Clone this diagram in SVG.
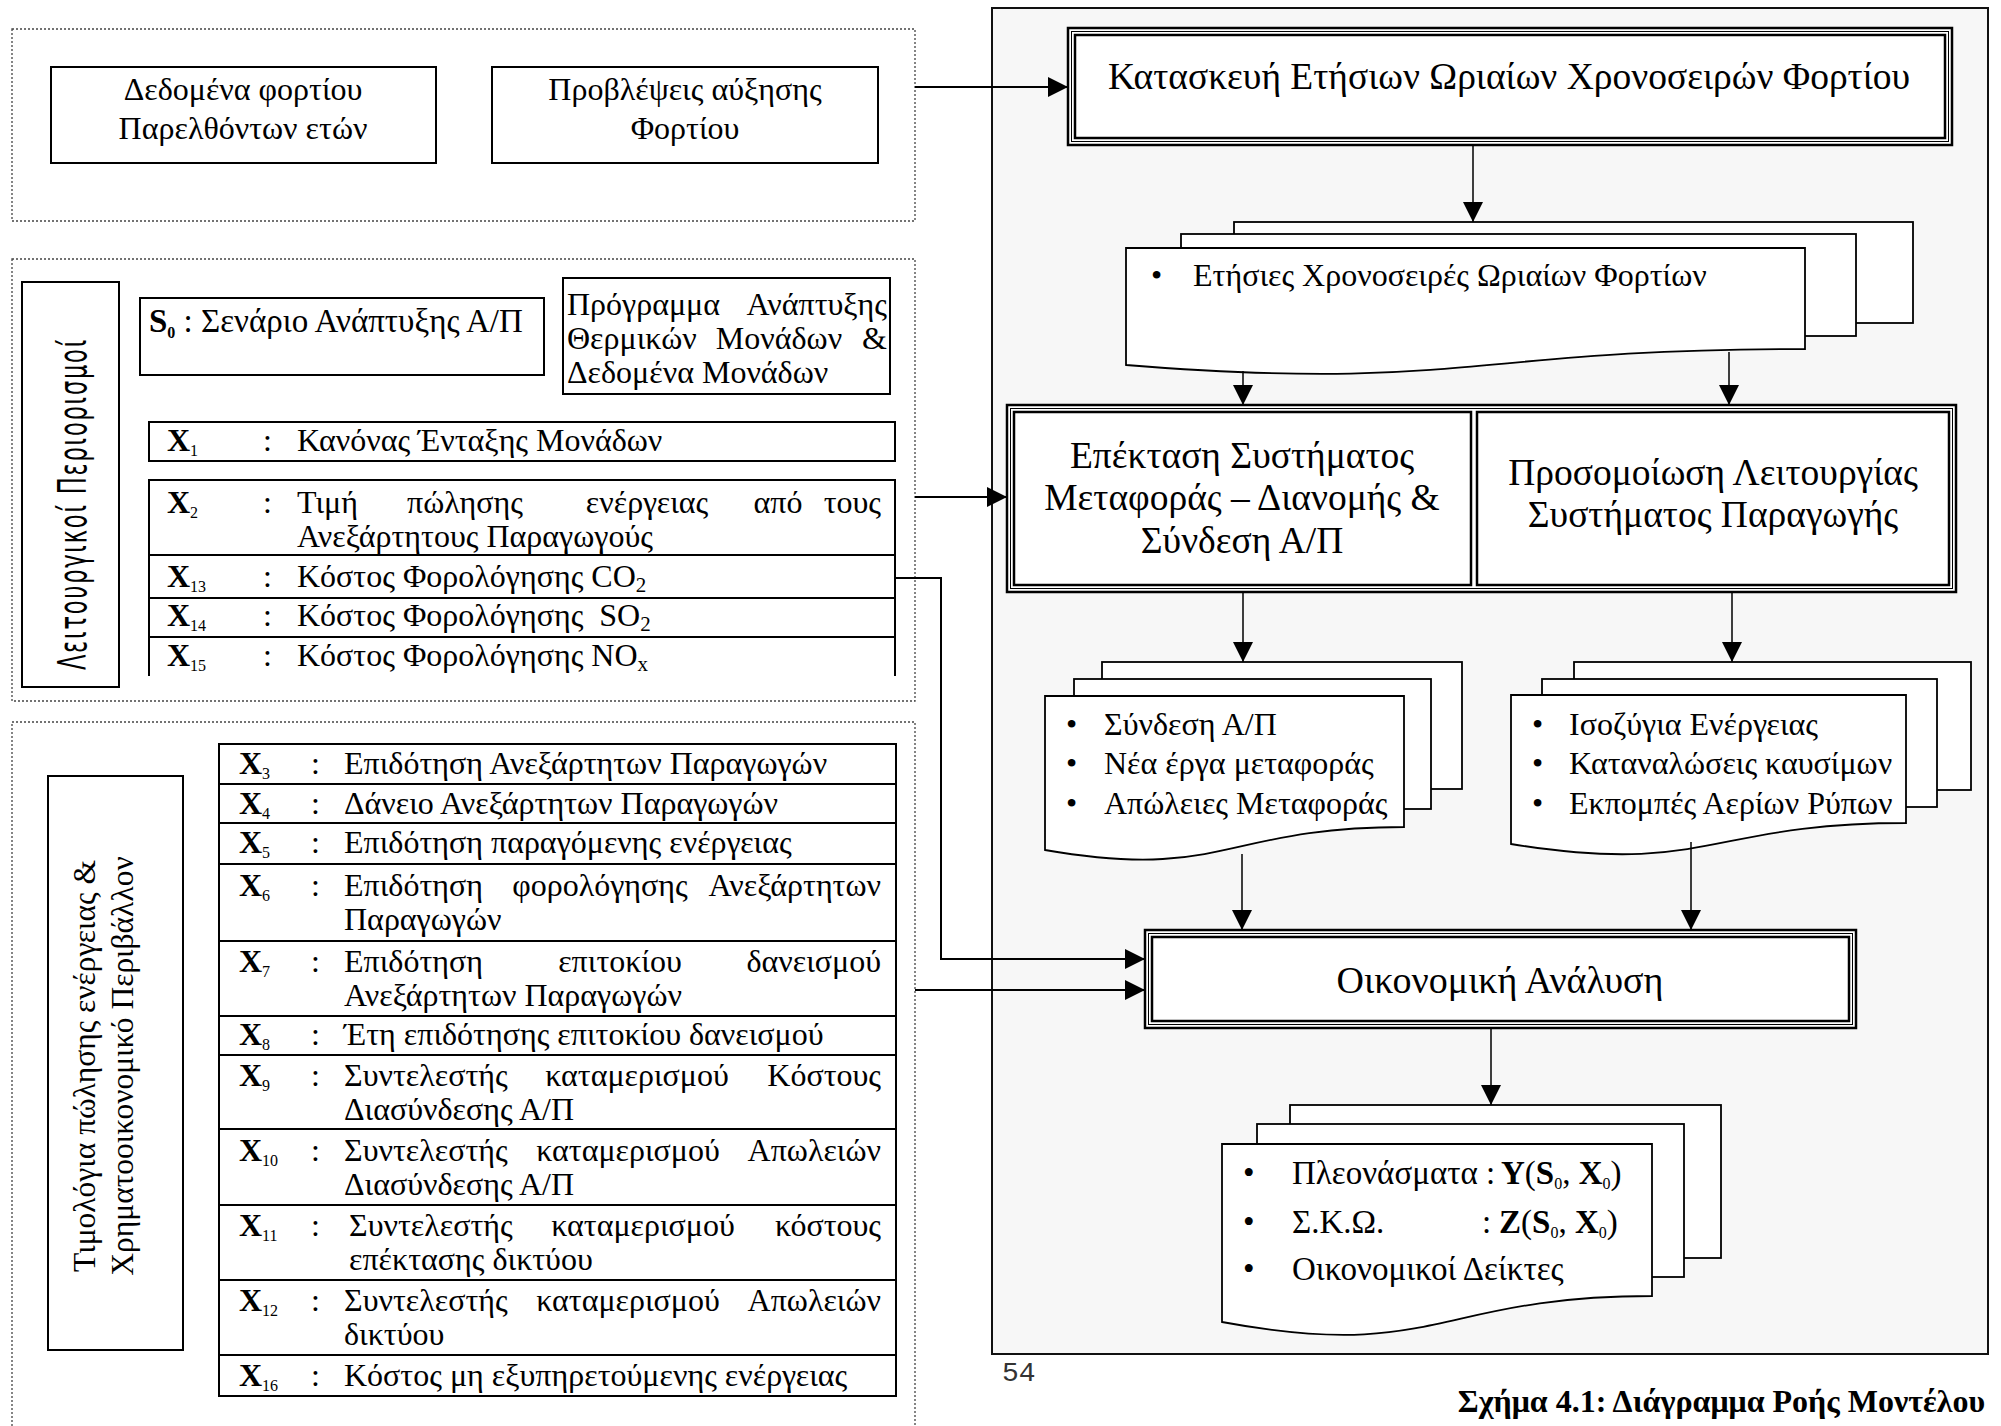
<svg xmlns="http://www.w3.org/2000/svg" width="2001" height="1426" viewBox="0 0 2001 1426">
  <style>
    .t { font-family: "Liberation Serif", "Times New Roman", serif; fill: #000; }
    .s { font-family: "DejaVu Sans", Verdana, sans-serif; fill: #000; }
    .m { font-family: "Liberation Mono", "Courier New", monospace; fill: #333; }
    .box { fill: #fff; stroke: #000; stroke-width: 2; }
    .dot { fill: none; stroke: #444; stroke-width: 1.3; stroke-dasharray: 2 2; }
    .conn { fill: none; stroke: #000; stroke-width: 2; }
    .vconn { fill: none; stroke: #000; stroke-width: 1.5; }
    .pg { fill: #fff; stroke: #000; stroke-width: 1.8; }
    .b { font-weight: bold; }
    .f32 { font-size: 32px; }
    .f33 { font-size: 33px; }
    .f37 { font-size: 37.5px; }
    .sub { font-size: 16px; }
  </style>
  <defs>
    <marker id="arrow" markerUnits="userSpaceOnUse" markerWidth="20" markerHeight="20" refX="20" refY="10" orient="auto">
      <path d="M0,0 L20,10 L0,20 Z" fill="#000"/>
    </marker>
  </defs>

  <rect width="2001" height="1426" fill="#fff"/>

  <!-- model area (right panel) -->
  <rect id="model-panel" x="992" y="8" width="996" height="1346" fill="#f7f7f7" stroke="#111" stroke-width="2"/>

  <!-- input groups -->
  <g id="load-inputs">
    <rect class="dot" x="12" y="29" width="903" height="192"/>
    <g id="past-load">
      <rect class="box" x="51" y="67" width="385" height="96"/>
      <text class="t f32" x="243" y="100" text-anchor="middle">Δεδομένα φορτίου</text>
      <text class="t f32" x="243" y="139" text-anchor="middle">Παρελθόντων ετών</text>
    </g>
    <g id="load-forecast">
      <rect class="box" x="492" y="67" width="386" height="96"/>
      <text class="t f32" x="685" y="100" text-anchor="middle">Προβλέψεις αύξησης</text>
      <text class="t f32" x="685" y="139" text-anchor="middle">Φορτίου</text>
    </g>
  </g>

  <g id="operating-constraints">
    <rect class="dot" x="12" y="259" width="903" height="442"/>
    <g id="constraints-label">
      <rect class="box" x="22" y="282" width="97" height="405"/>
      <text class="s" font-size="25" letter-spacing="2" transform="translate(86,504) rotate(-90) scale(0.9,1.55)" text-anchor="middle">Λειτουργικοί Περιορισμοί</text>
    </g>
    <g id="scenario-s0">
      <rect class="box" x="140" y="298" width="404" height="77"/>
      <text class="t f33" x="149" y="332" xml:space="preserve"><tspan class="b">S</tspan><tspan class="b sub" dy="6">0</tspan><tspan dy="-6"> : Σενάριο Ανάπτυξης Α/Π</tspan></text>
    </g>
    <g id="thermal-program">
      <rect class="box" x="563" y="278" width="327" height="116"/>
      <text class="t f32" x="567" y="315">Πρόγραμμα</text>
      <text class="t f32" x="887" y="315" text-anchor="end">Ανάπτυξης</text>
      <text class="t f32" x="567" y="349">Θερμικών</text>
      <text class="t f32" x="779" y="349" text-anchor="middle">Μονάδων</text>
      <text class="t f32" x="887" y="349" text-anchor="end">&amp;</text>
      <text class="t f32" x="567" y="383">Δεδομένα Μονάδων</text>
    </g>
    <g id="x1">
      <rect class="box" x="149" y="422" width="746" height="39"/>
      <text class="t f32 b" x="167" y="451">X<tspan class="sub" font-weight="normal" dy="5">1</tspan></text>
      <text class="t f32" x="263" y="451">:</text>
      <text class="t f32" x="297" y="451">Κανόνας Ένταξης Μονάδων</text>
    </g>
    <g id="x2-x15">
      <path d="M149,676 V480 H895 V676" fill="#fff" stroke="#000" stroke-width="2"/>
      <line x1="149" y1="555" x2="895" y2="555" stroke="#000" stroke-width="2"/>
      <line x1="149" y1="598" x2="895" y2="598" stroke="#000" stroke-width="2"/>
      <line x1="149" y1="637" x2="895" y2="637" stroke="#000" stroke-width="2"/>
      <g id="x2">
        <text class="t f32 b" x="167" y="513">X<tspan class="sub" font-weight="normal" dy="5">2</tspan></text>
        <text class="t f32" x="263" y="513">:</text>
        <text class="t f32" x="297" y="513">Τιμή</text>
        <text class="t f32" x="465" y="513" text-anchor="middle">πώλησης</text>
        <text class="t f32" x="647" y="513" text-anchor="middle">ενέργειας</text>
        <text class="t f32" x="778" y="513" text-anchor="middle">από</text>
        <text class="t f32" x="881" y="513" text-anchor="end">τους</text>
        <text class="t f32" x="297" y="547">Ανεξάρτητους Παραγωγούς</text>
      </g>
      <g id="x13">
        <text class="t f32 b" x="167" y="587">X<tspan class="sub" font-weight="normal" dy="5">13</tspan></text>
        <text class="t f32" x="263" y="587">:</text>
        <text class="t f32" x="297" y="587">Κόστος Φορολόγησης CO<tspan font-size="21" dy="5">2</tspan></text>
      </g>
      <g id="x14">
        <text class="t f32 b" x="167" y="626">X<tspan class="sub" font-weight="normal" dy="5">14</tspan></text>
        <text class="t f32" x="263" y="626">:</text>
        <text class="t f32" x="297" y="626" xml:space="preserve">Κόστος Φορολόγησης  SO<tspan font-size="21" dy="5">2</tspan></text>
      </g>
      <g id="x15">
        <text class="t f32 b" x="167" y="666">X<tspan class="sub" font-weight="normal" dy="5">15</tspan></text>
        <text class="t f32" x="263" y="666">:</text>
        <text class="t f32" x="297" y="666">Κόστος Φορολόγησης NO<tspan font-size="21" dy="5">x</tspan></text>
      </g>
    </g>
  </g>

  <g id="pricing-finance">
    <path class="dot" d="M12,1430 V722 H915 V1430"/>
    <g id="pricing-label">
      <rect class="box" x="48" y="776" width="135" height="574"/>
      <text class="t" font-size="31.5" transform="translate(95,1066) rotate(-90)" text-anchor="middle">Τιμολόγια πώλησης ενέργειας &amp;</text>
      <text class="t" font-size="31.5" transform="translate(133,1066) rotate(-90)" text-anchor="middle">Χρηματοοικονομικό Περιβάλλον</text>
    </g>
    <g id="pricing-table">
      <rect class="box" x="219" y="744" width="677" height="40"/>
      <rect class="box" x="219" y="784" width="677" height="39"/>
      <rect class="box" x="219" y="823" width="677" height="41"/>
      <rect class="box" x="219" y="864" width="677" height="77"/>
      <rect class="box" x="219" y="941" width="677" height="75"/>
      <rect class="box" x="219" y="1016" width="677" height="39"/>
      <rect class="box" x="219" y="1055" width="677" height="74"/>
      <rect class="box" x="219" y="1129" width="677" height="76"/>
      <rect class="box" x="219" y="1205" width="677" height="75"/>
      <rect class="box" x="219" y="1280" width="677" height="75"/>
      <rect class="box" x="219" y="1355" width="677" height="41"/>

      <g id="x3">
        <text class="t f32 b" x="239" y="774">X<tspan class="sub" font-weight="normal" dy="5">3</tspan></text>
        <text class="t f32" x="311" y="774">:</text>
        <text class="t f32" x="344" y="774">Επιδότηση Ανεξάρτητων Παραγωγών</text>
      </g>
      <g id="x4">
        <text class="t f32 b" x="239" y="814">X<tspan class="sub" font-weight="normal" dy="5">4</tspan></text>
        <text class="t f32" x="311" y="814">:</text>
        <text class="t f32" x="344" y="814">Δάνειο Ανεξάρτητων Παραγωγών</text>
      </g>
      <g id="x5">
        <text class="t f32 b" x="239" y="853">X<tspan class="sub" font-weight="normal" dy="5">5</tspan></text>
        <text class="t f32" x="311" y="853">:</text>
        <text class="t f32" x="344" y="853">Επιδότηση παραγόμενης ενέργειας</text>
      </g>
      <g id="x6">
        <text class="t f32 b" x="239" y="896">X<tspan class="sub" font-weight="normal" dy="5">6</tspan></text>
        <text class="t f32" x="311" y="896">:</text>
        <text class="t f32" x="344" y="896">Επιδότηση</text>
        <text class="t f32" x="600" y="896" text-anchor="middle">φορολόγησης</text>
        <text class="t f32" x="881" y="896" text-anchor="end">Ανεξάρτητων</text>
        <text class="t f32" x="344" y="930">Παραγωγών</text>
      </g>
      <g id="x7">
        <text class="t f32 b" x="239" y="972">X<tspan class="sub" font-weight="normal" dy="5">7</tspan></text>
        <text class="t f32" x="311" y="972">:</text>
        <text class="t f32" x="344" y="972">Επιδότηση</text>
        <text class="t f32" x="620" y="972" text-anchor="middle">επιτοκίου</text>
        <text class="t f32" x="881" y="972" text-anchor="end">δανεισμού</text>
        <text class="t f32" x="344" y="1006">Ανεξάρτητων Παραγωγών</text>
      </g>
      <g id="x8">
        <text class="t f32 b" x="239" y="1045">X<tspan class="sub" font-weight="normal" dy="5">8</tspan></text>
        <text class="t f32" x="311" y="1045">:</text>
        <text class="t f32" x="344" y="1045">Έτη επιδότησης επιτοκίου δανεισμού</text>
      </g>
      <g id="x9">
        <text class="t f32 b" x="239" y="1086">X<tspan class="sub" font-weight="normal" dy="5">9</tspan></text>
        <text class="t f32" x="311" y="1086">:</text>
        <text class="t f32" x="344" y="1086">Συντελεστής</text>
        <text class="t f32" x="637" y="1086" text-anchor="middle">καταμερισμού</text>
        <text class="t f32" x="881" y="1086" text-anchor="end">Κόστους</text>
        <text class="t f32" x="344" y="1120">Διασύνδεσης Α/Π</text>
      </g>
      <g id="x10">
        <text class="t f32 b" x="239" y="1161">X<tspan class="sub" font-weight="normal" dy="5">10</tspan></text>
        <text class="t f32" x="311" y="1161">:</text>
        <text class="t f32" x="344" y="1161">Συντελεστής</text>
        <text class="t f32" x="628" y="1161" text-anchor="middle">καταμερισμού</text>
        <text class="t f32" x="881" y="1161" text-anchor="end">Απωλειών</text>
        <text class="t f32" x="344" y="1195">Διασύνδεσης Α/Π</text>
      </g>
      <g id="x11">
        <text class="t f32 b" x="239" y="1236">X<tspan class="sub" font-weight="normal" dy="5">11</tspan></text>
        <text class="t f32" x="311" y="1236">:</text>
        <text class="t f32" x="349" y="1236">Συντελεστής</text>
        <text class="t f32" x="643" y="1236" text-anchor="middle">καταμερισμού</text>
        <text class="t f32" x="881" y="1236" text-anchor="end">κόστους</text>
        <text class="t f32" x="349" y="1270">επέκτασης δικτύου</text>
      </g>
      <g id="x12">
        <text class="t f32 b" x="239" y="1311">X<tspan class="sub" font-weight="normal" dy="5">12</tspan></text>
        <text class="t f32" x="311" y="1311">:</text>
        <text class="t f32" x="344" y="1311">Συντελεστής</text>
        <text class="t f32" x="628" y="1311" text-anchor="middle">καταμερισμού</text>
        <text class="t f32" x="881" y="1311" text-anchor="end">Απωλειών</text>
        <text class="t f32" x="344" y="1345">δικτύου</text>
      </g>
      <g id="x16">
        <text class="t f32 b" x="239" y="1386">X<tspan class="sub" font-weight="normal" dy="5">16</tspan></text>
        <text class="t f32" x="311" y="1386">:</text>
        <text class="t f32" x="344" y="1386">Κόστος μη εξυπηρετούμενης ενέργειας</text>
      </g>
    </g>
  </g>

  <!-- process nodes -->
  <g id="load-series-build">
    <rect x="1068" y="28" width="884" height="117" fill="#fff" stroke="#000" stroke-width="2.5"/>
    <rect x="1071.5" y="31.5" width="877" height="110" fill="none" stroke="#000" stroke-width="1"/>
    <rect x="1075" y="35" width="870" height="103" fill="none" stroke="#000" stroke-width="2.5"/>
    <text class="t f37" x="1509" y="89" text-anchor="middle">Κατασκευή Ετήσιων Ωριαίων Χρονοσειρών Φορτίου</text>
  </g>

  <g id="load-series-doc">
    <rect class="pg" x="1234" y="222" width="679" height="101"/>
    <rect class="pg" x="1181" y="234" width="675" height="102"/>
    <path class="pg" d="M1126,248 H1805 V349 C1465,349 1465,392 1126,365 Z"/>
    <text class="t f32" x="1151" y="286">•</text>
    <text class="t f32" x="1193" y="286">Ετήσιες Χρονοσειρές Ωριαίων Φορτίων</text>
  </g>

  <g id="simulation-pair">
    <rect x="1007" y="405" width="949" height="187" fill="#fff" stroke="#000" stroke-width="2.5"/>
    <rect x="1010.5" y="408.5" width="942" height="180" fill="none" stroke="#000" stroke-width="1"/>
    <g id="network-expansion">
      <rect x="1014" y="412" width="457" height="173" fill="#fff" stroke="#000" stroke-width="2.5"/>
      <text class="t f37" x="1242" y="468" text-anchor="middle">Επέκταση Συστήματος</text>
      <text class="t f37" x="1242" y="510" text-anchor="middle">Μεταφοράς – Διανομής &amp;</text>
      <text class="t f37" x="1242" y="553" text-anchor="middle">Σύνδεση Α/Π</text>
    </g>
    <g id="generation-sim">
      <rect x="1477" y="412" width="472" height="173" fill="#fff" stroke="#000" stroke-width="2.5"/>
      <text class="t f37" x="1713" y="485" text-anchor="middle">Προσομοίωση Λειτουργίας</text>
      <text class="t f37" x="1713" y="527" text-anchor="middle">Συστήματος Παραγωγής</text>
    </g>
  </g>

  <g id="network-doc">
    <rect class="pg" x="1102" y="662" width="360" height="127"/>
    <rect class="pg" x="1074" y="679" width="357" height="130"/>
    <path class="pg" d="M1045,696 H1404 V827 C1224,827 1224,881 1045,850 Z"/>
    <text class="t f32" x="1066" y="735">•</text>
    <text class="t f32" x="1104" y="735">Σύνδεση Α/Π</text>
    <text class="t f32" x="1066" y="774">•</text>
    <text class="t f32" x="1104" y="774">Νέα έργα μεταφοράς</text>
    <text class="t f32" x="1066" y="814">•</text>
    <text class="t f32" x="1104" y="814">Απώλειες Μεταφοράς</text>
  </g>

  <g id="generation-doc">
    <rect class="pg" x="1574" y="662" width="397" height="128"/>
    <rect class="pg" x="1542" y="679" width="395" height="128"/>
    <path class="pg" d="M1511,695 H1906 V823 C1708,823 1708,876 1511,844 Z"/>
    <text class="t f32" x="1532" y="735">•</text>
    <text class="t f32" x="1569" y="735">Ισοζύγια Ενέργειας</text>
    <text class="t f32" x="1532" y="774">•</text>
    <text class="t f32" x="1569" y="774">Καταναλώσεις καυσίμων</text>
    <text class="t f32" x="1532" y="814">•</text>
    <text class="t f32" x="1569" y="814">Εκπομπές Αερίων Ρύπων</text>
  </g>

  <g id="economic-analysis">
    <rect x="1145" y="930" width="711" height="98" fill="#fff" stroke="#000" stroke-width="2.5"/>
    <rect x="1148.5" y="933.5" width="704" height="91" fill="none" stroke="#000" stroke-width="1"/>
    <rect x="1152" y="937" width="697" height="84" fill="none" stroke="#000" stroke-width="2.5"/>
    <text class="t" font-size="38" x="1500" y="993" text-anchor="middle">Οικονομική Ανάλυση</text>
  </g>

  <g id="results-doc">
    <rect class="pg" x="1290" y="1105" width="431" height="153"/>
    <rect class="pg" x="1257" y="1124" width="427" height="153"/>
    <path class="pg" d="M1222,1144 H1652 V1296 C1437,1296 1437,1362 1222,1322 Z"/>
    <text class="t f33" x="1243" y="1184">•</text>
    <text class="t f33" x="1292" y="1184">Πλεονάσματα :</text>
    <text class="t f33" x="1501" y="1184"><tspan class="b">Y</tspan>(<tspan class="b">S</tspan><tspan class="sub" dy="5">0</tspan><tspan dy="-5">, </tspan><tspan class="b">X</tspan><tspan class="sub" dy="5">0</tspan><tspan dy="-5">)</tspan></text>
    <text class="t f33" x="1243" y="1233">•</text>
    <text class="t f33" x="1292" y="1233">Σ.Κ.Ω.</text>
    <text class="t f33" x="1482" y="1233">:</text>
    <text class="t f33" x="1499" y="1233"><tspan class="b">Z</tspan>(<tspan class="b">S</tspan><tspan class="sub" dy="5">0</tspan><tspan dy="-5">, </tspan><tspan class="b">X</tspan><tspan class="sub" dy="5">0</tspan><tspan dy="-5">)</tspan></text>
    <text class="t f33" x="1243" y="1280">•</text>
    <text class="t f33" x="1292" y="1280">Οικονομικοί Δείκτες</text>
  </g>

  <!-- connectors -->
  <g id="connectors">
    <line class="conn" x1="915" y1="87" x2="1068" y2="87" marker-end="url(#arrow)"/>
    <line class="conn" x1="915" y1="497" x2="1007" y2="497" marker-end="url(#arrow)"/>
    <polyline class="conn" points="895,578 941,578 941,959 1145,959" marker-end="url(#arrow)"/>
    <line class="conn" x1="915" y1="990" x2="1145" y2="990" marker-end="url(#arrow)"/>
    <line class="vconn" x1="1473" y1="145" x2="1473" y2="222" marker-end="url(#arrow)"/>
    <line class="vconn" x1="1243" y1="371" x2="1243" y2="405" marker-end="url(#arrow)"/>
    <line class="vconn" x1="1729" y1="352" x2="1729" y2="405" marker-end="url(#arrow)"/>
    <line class="vconn" x1="1243" y1="592" x2="1243" y2="662" marker-end="url(#arrow)"/>
    <line class="vconn" x1="1732" y1="592" x2="1732" y2="662" marker-end="url(#arrow)"/>
    <line class="vconn" x1="1242" y1="854" x2="1242" y2="930" marker-end="url(#arrow)"/>
    <line class="vconn" x1="1691" y1="842" x2="1691" y2="930" marker-end="url(#arrow)"/>
    <line class="vconn" x1="1491" y1="1028" x2="1491" y2="1105" marker-end="url(#arrow)"/>
  </g>

  <text class="m" font-size="28" x="1002" y="1381">54</text>
  <text class="t b" font-size="32" x="1985" y="1412" text-anchor="end">Σχήμα 4.1: Διάγραμμα Ροής Μοντέλου</text>
</svg>
